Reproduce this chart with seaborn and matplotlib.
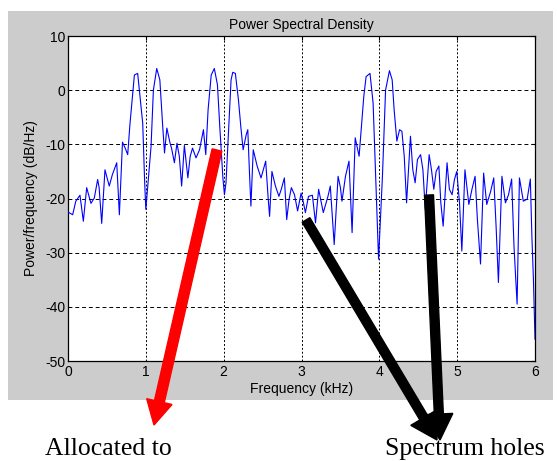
import numpy as np
import pandas as pd
import seaborn as sns
import matplotlib.pyplot as plt
from matplotlib.patches import Rectangle, FancyArrow
from matplotlib.transforms import IdentityTransform

freq_khz = [0.00, 0.06, 0.10, 0.154, 0.197, 0.24, 0.295, 0.338, 0.381, 0.40,
            0.433, 0.475, 0.53, 0.57, 0.626, 0.66, 0.70, 0.735, 0.767, 0.797,
            0.853, 0.895, 0.96, 0.985, 1.0, 1.02, 1.067, 1.097, 1.14, 1.18,
            1.217, 1.24, 1.27, 1.31, 1.33, 1.367, 1.40, 1.43, 1.46, 1.495,
            1.54, 1.57, 1.60, 1.645, 1.69, 1.74, 1.77, 1.80, 1.84, 1.88,
            1.92, 1.95, 1.99, 2.01, 2.03, 2.065, 2.095, 2.117, 2.15, 2.19,
            2.22, 2.25, 2.29, 2.31, 2.33, 2.35, 2.38, 2.43, 2.48, 2.54,
            2.57, 2.59, 2.62, 2.665, 2.71, 2.74, 2.78, 2.81, 2.84, 2.87,
            2.91, 2.95, 2.995, 3.025, 3.05, 3.09, 3.14, 3.18, 3.22, 3.28,
            3.34, 3.37, 3.42, 3.47, 3.50, 3.52, 3.565, 3.61, 3.65, 3.69,
            3.74, 3.77, 3.80, 3.83, 3.88, 3.92, 3.96, 3.99, 4.04, 4.08,
            4.13, 4.165, 4.19, 4.225, 4.26, 4.29, 4.32, 4.35, 4.40, 4.43,
            4.46, 4.49, 4.53, 4.56, 4.59, 4.64, 4.67, 4.70, 4.73, 4.765,
            4.79, 4.82, 4.87, 4.90, 4.935, 4.965, 4.995, 5.03, 5.06, 5.10,
            5.15, 5.19, 5.23, 5.26, 5.30, 5.34, 5.38, 5.43, 5.47, 5.50,
            5.53, 5.575, 5.62, 5.66, 5.70, 5.73, 5.77, 5.80, 5.85, 5.90,
            5.94, 5.96, 5.98, 6.00]
psd_db = [-22.5, -23.0, -20.5, -19.4, -24.2, -18.0, -20.9, -19.9, -16.5, -18.0,
          -24.6, -14.7, -17.7, -15.6, -13.4, -23.0, -9.6, -10.7, -11.9, -6.1,
          2.8, 3.1, -6.1, -17.0, -22.0, -18.5, -10.4, 0.0, 4.0, 1.9,
          -6.7, -11.6, -7.0, -9.7, -10.7, -13.4, -9.8, -12.2, -17.7, -10.2,
          -16.2, -12.2, -10.7, -12.5, -11.0, -7.3, -11.9, -3.6, 2.8, 4.0,
          1.0, -6.7, -16.2, -19.3, -17.1, -6.7, 1.9, 3.3, 3.1, -1.8,
          -6.7, -11.0, -8.2, -7.3, -14.7, -21.4, -11.0, -14.0, -16.2, -13.1,
          -19.6, -23.3, -15.0, -17.7, -19.6, -18.3, -16.2, -23.9, -20.2, -18.0,
          -19.3, -22.3, -19.0, -20.8, -22.6, -19.6, -19.4, -24.5, -18.3, -22.6,
          -19.6, -17.7, -28.5, -15.9, -18.0, -20.5, -15.9, -13.1, -26.3, -8.8,
          -12.2, -6.7, -1.2, 2.5, 3.1, -2.4, -19.0, -31.2, -15.9, 0.0,
          3.6, 1.9, -3.6, -9.4, -7.3, -7.6, -12.2, -20.8, -8.5, -14.7,
          -17.1, -12.8, -11.9, -14.7, -22.0, -11.9, -14.7, -18.3, -15.0, -14.0,
          -20.8, -25.1, -13.4, -18.3, -19.3, -16.5, -15.0, -20.8, -29.7, -14.7,
          -21.1, -18.3, -15.9, -23.9, -32.1, -15.3, -21.1, -18.7, -16.2, -25.1,
          -35.5, -15.9, -20.8, -19.3, -16.4, -28.8, -39.5, -16.2, -20.5, -20.1,
          -16.4, -27.0, -35.0, -46.0]

x_ticks = [0, 1, 2, 3, 4, 5, 6]
y_ticks = [10, 0, -10, -20, -30, -40, -50]

df = pd.DataFrame({"freq": freq_khz, "psd": psd_db})

# === Style ===
sns.set_style("white")
plt.rcParams['font.family'] = ['Liberation Sans', 'DejaVu Sans']
plt.rcParams['text.color'] = 'black'
plt.rcParams['axes.labelcolor'] = 'black'
plt.rcParams['xtick.color'] = 'black'
plt.rcParams['ytick.color'] = 'black'

fig = plt.figure(figsize=(5.57, 4.61), dpi=100)
fig.patch.set_facecolor("white")

# MATLAB-style grey figure panel
fig.patches.append(Rectangle((8 / 557, 61 / 461), 545 / 557, 389 / 461,
                             transform=fig.transFigure, facecolor="#cccccc",
                             edgecolor="none", zorder=-1))

ax = fig.add_axes([68 / 557, 100 / 461, 467 / 557, 325 / 461])
ax.set_facecolor("white")

sns.lineplot(data=df, x="freq", y="psd", ax=ax, color="#0000ff",
             linewidth=0.8, estimator=None, sort=False, zorder=3)

ax.set_xlim(0, 6)
ax.set_ylim(-50, 10)
ax.set_xticks(x_ticks)
ax.set_yticks(y_ticks)
ax.set_xticklabels([str(t) for t in x_ticks])
ax.set_yticklabels([str(t) for t in y_ticks])

# dashed grid
for t in x_ticks[1:-1]:
    ax.axvline(t, color="black", linewidth=0.7, linestyle=(0, (2, 2)), zorder=1)
for t in y_ticks[1:-1]:
    ax.axhline(t, color="black", linewidth=0.7, linestyle=(0, (4, 3)), zorder=1)

for s in ax.spines.values():
    s.set_visible(True)
    s.set_color("black")
    s.set_linewidth(0.9)

ax.tick_params(direction="in", length=3, width=0.8, labelsize=10, color="black",
               top=True, right=True, pad=3)
ax.tick_params(axis="y", pad=2)

ax.set_title("Power Spectral Density", fontsize=10, pad=5)
ax.set_xlabel("Frequency (kHz)", fontsize=10, labelpad=2)
ax.set_ylabel("Power/frequency (dB/Hz)", fontsize=10, labelpad=5)

# === Annotation arrows (figure pixels) ===
ident = IdentityTransform()
fig.add_artist(FancyArrow(217, 311, -63, -275, width=10, head_width=26,
                          head_length=24, length_includes_head=True,
                          color="#ff0000", transform=ident, zorder=5))
fig.add_artist(FancyArrow(306, 241, 131, -220, width=9, head_width=30,
                          head_length=26, length_includes_head=True,
                          color="black", transform=ident, zorder=5))
fig.add_artist(FancyArrow(429, 266, 11, -245, width=9, head_width=28,
                          head_length=26, length_includes_head=True,
                          color="black", transform=ident, zorder=5))

fig.text(45 / 557, 6 / 461, "Allocated to", family="Liberation Serif",
         fontsize=18.5, va="baseline", ha="left", color="black")
fig.text(385 / 557, 6 / 461, "Spectrum holes", family="Liberation Serif",
         fontsize=18.5, va="baseline", ha="left", color="black")

fig.savefig("out.png", dpi=100)
